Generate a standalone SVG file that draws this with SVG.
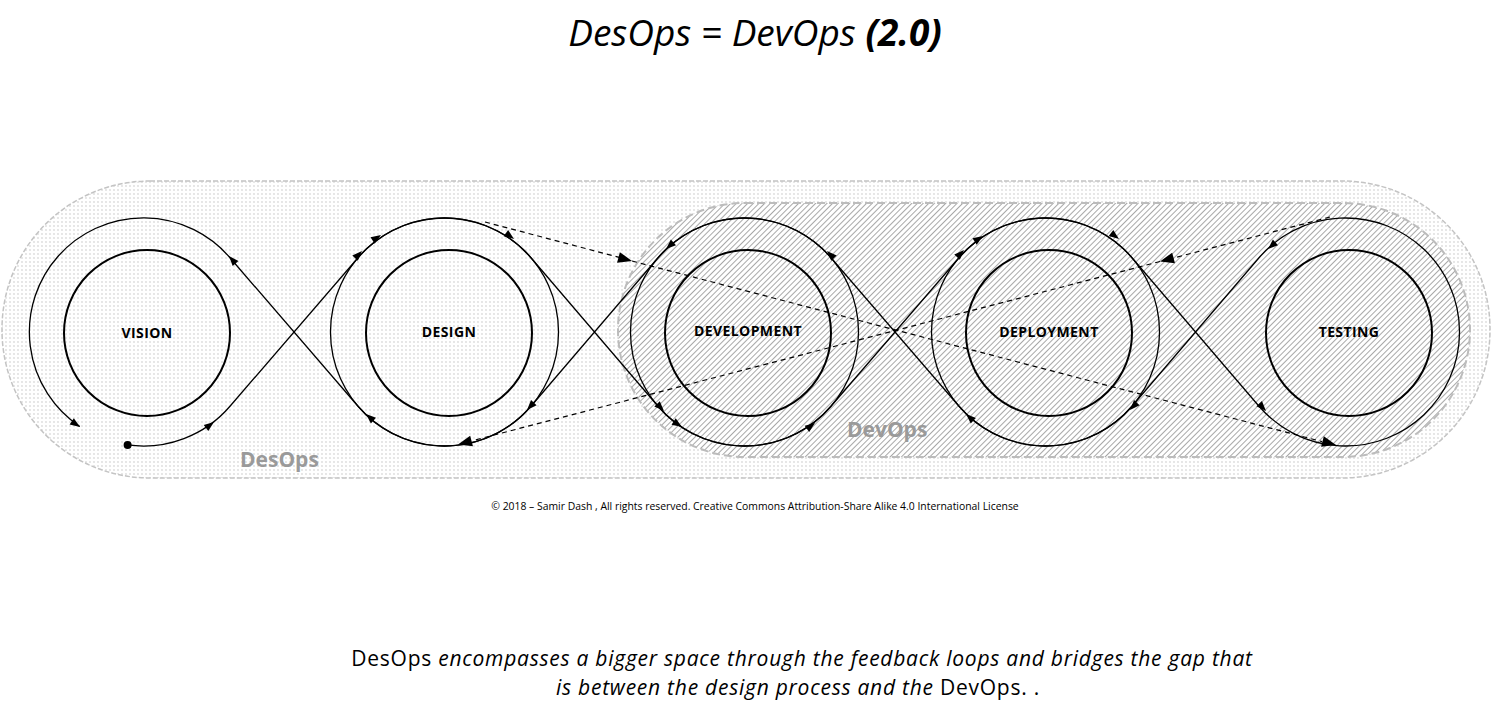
<svg xmlns="http://www.w3.org/2000/svg" xmlns:xlink="http://www.w3.org/1999/xlink" width="1492" height="708" viewBox="0 0 1492 708">
<style>
  text { font-family: "Open Sans", "Noto Sans", "Liberation Sans", sans-serif; fill: #000; }
  .node-label { font-size: 14px; font-weight: bold; text-anchor: middle; letter-spacing: 0.4px; }
  .region-label { font-size: 21px; font-weight: bold; fill: #9a9a9a; }
  .caption { font-size: 21px; text-anchor: middle; letter-spacing: 0.75px; }
  .inner { fill: none; stroke: #000; stroke-width: 2; }
  .loop { fill: none; stroke: #000; stroke-width: 1.3; }
  .dash { fill: none; stroke: #000; stroke-width: 1.2; stroke-dasharray: 5 4; }
  .ah { fill: #000; }
</style>
<defs>
  <pattern id="dots" width="4" height="4" patternUnits="userSpaceOnUse">
    <circle cx="2" cy="2" r="0.65" fill="#b8b8b8"/>
  </pattern>
  <pattern id="hatch" width="4" height="4" patternUnits="userSpaceOnUse" patternTransform="rotate(45)">
    <line x1="0.5" y1="0" x2="0.5" y2="4" stroke="#a8a8a8" stroke-width="1"/>
  </pattern>
  <path id="ah" class="ah" d="M0,0 L-10,-3.8 L-10,3.8 Z"/>
  <path id="ahb" class="ah" d="M0,0 L-14,-5.5 L-14,5.5 Z"/>
</defs>
<rect width="1492" height="708" fill="#fff"/>

<text x="755" y="46" text-anchor="middle" font-size="37" font-style="italic">DesOps = DevOps <tspan font-weight="bold">(2.0)</tspan></text>

<g id="desops-region">
  <rect x="2" y="181" width="1488" height="297" rx="148" ry="148" fill="#fff"/>
  <rect x="2" y="181" width="1488" height="297" rx="148" ry="148" fill="url(#dots)" stroke="#c4c4c4" stroke-width="1.5" stroke-dasharray="5 2"/>
  <text class="region-label" x="240" y="467">DesOps</text>
</g>
<g id="devops-region">
  <rect x="618" y="203" width="852" height="254" rx="127" ry="127" fill="#fff"/>
  <rect x="618" y="203" width="852" height="254" rx="127" ry="127" fill="url(#hatch)" stroke="#bcbcbc" stroke-width="2" stroke-dasharray="8 4"/>
  <text class="region-label" x="847" y="437">DevOps</text>
</g>

<g id="vision">
  <circle class="inner" cx="147" cy="333" r="83"/>
  <text class="node-label" x="147" y="338">VISION</text>
</g>
<g id="design">
  <circle class="inner" cx="449" cy="333" r="83"/>
  <text class="node-label" x="449" y="337">DESIGN</text>
</g>
<g id="development">
  <circle class="inner" cx="748" cy="333" r="83"/>
  <text class="node-label" x="748" y="336">DEVELOPMENT</text>
</g>
<g id="deployment">
  <circle class="inner" cx="1049" cy="333" r="83"/>
  <text class="node-label" x="1049" y="337">DEPLOYMENT</text>
</g>
<g id="testing">
  <circle class="inner" cx="1349" cy="333" r="83"/>
  <text class="node-label" x="1349" y="337">TESTING</text>
</g>

<g id="connectors">
  <!-- loop Vision-Design -->
  <path class="loop" d="M127.6,444.9 A114,114 0 0 0 230.2,406 L357.8,258 A114,114 0 1 1 357.8,406 L230.2,258 A114,114 0 1 0 79.8,426.5"/>
  <circle cx="127.6" cy="444.9" r="4" fill="#000"/>
  <!-- loop Design-Development -->
  <path class="loop" d="M531.2,258 L657.8,406 A114,114 0 1 0 657.8,258 L531.2,406 A114,114 0 1 1 531.2,258 Z"/>
  <!-- loop Development-Deployment -->
  <path class="loop" d="M831.2,406 L958.8,258 A114,114 0 1 1 958.8,406 L831.2,258 A114,114 0 1 0 831.2,406 Z"/>
  <!-- loop Deployment-Testing -->
  <path class="loop" d="M1132.2,258 L1258.8,406 A114,114 0 1 0 1258.8,258 L1132.2,406 A114,114 0 1 1 1132.2,258 Z"/>
  <!-- dashed feedback lines -->
  <path class="dash" d="M485,222 L620,257.6"/>
  <path class="dash" d="M632,261 L1322,441.6"/>
  <path class="dash" d="M1330,217 L1172,258.4"/>
  <path class="dash" d="M1160,261.5 L472,440.8"/>

  <use xlink:href="#ah" transform="translate(229,256) rotate(-131)"/>
  <use xlink:href="#ah" transform="translate(80,427) rotate(34)"/>
  <use xlink:href="#ah" transform="translate(214,422) rotate(-37)"/>
  <use xlink:href="#ah" transform="translate(362,251) rotate(-46)"/>
  <use xlink:href="#ah" transform="translate(381,235) rotate(-33)"/>
  <use xlink:href="#ah" transform="translate(366,414) rotate(-138)"/>
  <use xlink:href="#ah" transform="translate(514,239) rotate(36)"/>
  <use xlink:href="#ah" transform="translate(664,411) rotate(46)"/>
  <use xlink:href="#ah" transform="translate(682,427) rotate(33)"/>
  <use xlink:href="#ah" transform="translate(666,249) rotate(138)"/>
  <use xlink:href="#ah" transform="translate(527,410) rotate(133)"/>
  <use xlink:href="#ah" transform="translate(815,423) rotate(-36)"/>
  <use xlink:href="#ah" transform="translate(964,250) rotate(-46)"/>
  <use xlink:href="#ah" transform="translate(983,236) rotate(-33)"/>
  <use xlink:href="#ah" transform="translate(966,414) rotate(-137)"/>
  <use xlink:href="#ah" transform="translate(827,251) rotate(-134)"/>
  <use xlink:href="#ah" transform="translate(1119,239) rotate(37)"/>
  <use xlink:href="#ah" transform="translate(1266,411) rotate(47)"/>
  <use xlink:href="#ah" transform="translate(1268,249) rotate(138)"/>
  <use xlink:href="#ah" transform="translate(1130,410) rotate(133)"/>

  <use xlink:href="#ahb" transform="translate(632,261) rotate(14.7)"/>
  <use xlink:href="#ahb" transform="translate(1336,445) rotate(14.7)"/>
  <use xlink:href="#ahb" transform="translate(1160,261.5) rotate(165.4)"/>
  <use xlink:href="#ahb" transform="translate(458,444.5) rotate(165.4)"/>
</g>

<text x="755" y="510" text-anchor="middle" font-size="10.4">© 2018 – Samir Dash , All rights reserved. Creative Commons Attribution-Share Alike 4.0 International License</text>

<text class="caption" x="802" y="666">DesOps<tspan font-style="italic"> encompasses a bigger space through the feedback loops and bridges the gap that</tspan></text>
<text class="caption" x="798" y="695"><tspan font-style="italic">is between the design process and the </tspan>DevOps. .</text>
</svg>
